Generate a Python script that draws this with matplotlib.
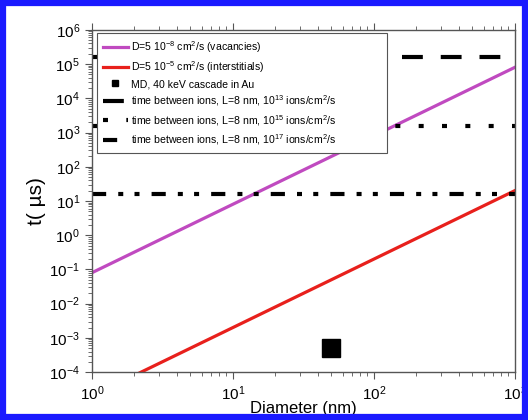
import numpy as np
import matplotlib
matplotlib.use("Agg")
import matplotlib.pyplot as plt
from matplotlib.ticker import LogLocator, NullFormatter
from matplotlib.patches import Rectangle

plt.rcParams['font.family'] = ['Liberation Sans', 'DejaVu Sans']
plt.rcParams['mathtext.default'] = 'regular'

# data
diam = [1, 1000]                  # nm
t_vacancies = [0.08, 8e4]         # us
t_interstitials = [2e-5, 20]      # us
md_diam = [50]
md_time = [5e-4]
t_ions_13 = 1.6e5
t_ions_15 = 1.6e3
t_ions_17 = 16

labels = [
    'D=5 10$^{-8}$ cm$^{2}$/s (vacancies)',
    'D=5 10$^{-5}$ cm$^{2}$/s (interstitials)',
    'MD, 40 keV cascade in Au',
    'time between ions, L=8 nm, 10$^{13}$ ions/cm$^{2}$/s',
    'time between ions, L=8 nm, 10$^{15}$ ions/cm$^{2}$/s',
    'time between ions, L=8 nm, 10$^{17}$ ions/cm$^{2}$/s',
]

fig = plt.figure(figsize=(5.28, 4.2), dpi=100)
ax = fig.add_axes([0.174, 0.114, 0.801, 0.815])

ax.plot(diam, t_vacancies, color='#c04ac0', lw=2.3, label=labels[0])
ax.plot(diam, t_interstitials, color='#e8201c', lw=2.3, label=labels[1])
ax.plot(md_diam, md_time, 's', color='black', ms=13, label=labels[2])

hl = dict(color='black', lw=3, dash_capstyle='butt')
ax.plot(diam, [t_ions_13] * 2, dashes=(5, 4.3), label=labels[3], **hl)
ax.plot(diam, [t_ions_15] * 2, dashes=(1.2, 4.4), label=labels[4], **hl)
ax.plot(diam, [t_ions_17] * 2, dashes=(3.4, 2.9, 1.2, 2.7, 1.2, 2.9), label=labels[5], **hl)

ax.set_xscale('log')
ax.set_yscale('log')
ax.set_xlim(1, 1000)
ax.set_ylim(1e-4, 1e6)

ax.xaxis.set_major_locator(LogLocator(base=10, numticks=20))
ax.yaxis.set_major_locator(LogLocator(base=10, numticks=20))
ax.xaxis.set_minor_locator(LogLocator(base=10, subs=np.arange(2, 10), numticks=100))
ax.yaxis.set_minor_locator(LogLocator(base=10, subs=np.arange(2, 10), numticks=100))
ax.xaxis.set_minor_formatter(NullFormatter())
ax.yaxis.set_minor_formatter(NullFormatter())

for s in ax.spines.values():
    s.set_color('#555555')
    s.set_linewidth(1.0)
ax.tick_params(which='both', direction='out', colors='#555555', labelcolor='black',
               labelsize=11, top=True, right=False)
ax.tick_params(which='major', length=5)
ax.tick_params(which='minor', length=3)

ax.set_xlabel('Diameter (nm)', fontsize=12, labelpad=-1)
ax.set_ylabel('t( µs)', fontsize=15, labelpad=2)

leg = ax.legend(loc='upper left', fontsize=7.6, frameon=True, fancybox=False,
                framealpha=1, edgecolor='#555555', handlelength=2.4,
                handletextpad=0.3, labelspacing=0.42, borderpad=0.55,
                bbox_to_anchor=(0.012, 0.5, 0.686, 0.491), mode='expand',
                borderaxespad=0, markerscale=0.35)
leg.get_frame().set_linewidth(0.8)

fig.patches.append(Rectangle((0.005, 0.006), 0.99, 0.988, transform=fig.transFigure,
                             fill=False, edgecolor='#1a1aff', lw=4.5))

fig.savefig('out.png', dpi=100)
